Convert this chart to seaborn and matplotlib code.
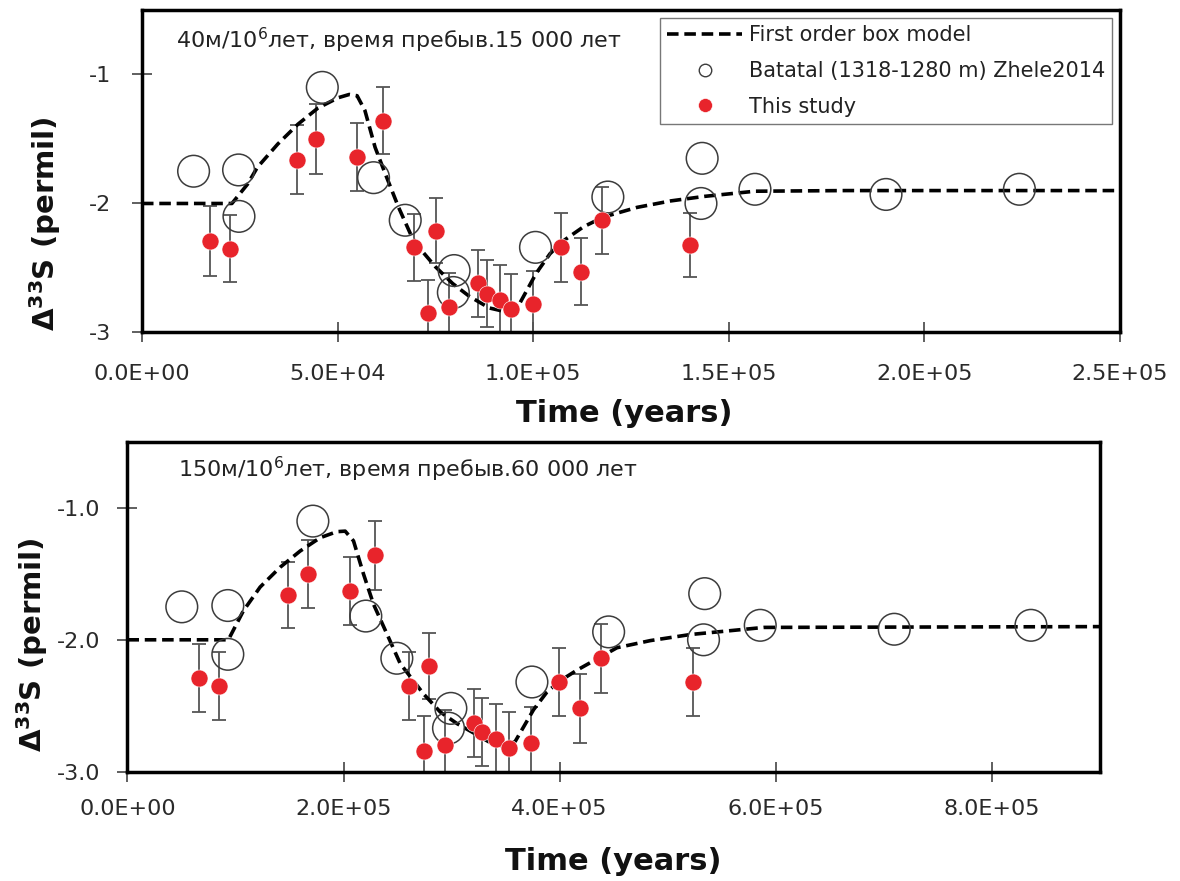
import matplotlib
matplotlib.use("Agg")
import matplotlib.pyplot as plt
import matplotlib.ticker as mticker
from matplotlib.lines import Line2D
import seaborn as sns

# --- top panel: 40 m/Myr, residence 15 000 yr ---
model_t_x = [0, 23000, 27000, 29500, 34700, 39900, 45000, 50200, 53000, 55000, 57000,
             59600, 62200, 65600, 69000, 70800, 75000, 79400, 83700, 88800, 93100,
             96100, 100800, 104300, 107700, 112900, 118000, 126600, 135200, 143800,
             156700, 180000, 250000]
model_t_y = [-2.00, -2.00, -1.85, -1.72, -1.54, -1.385, -1.26, -1.18, -1.155, -1.165, -1.28,
             -1.565, -1.77, -2.03, -2.26, -2.34, -2.49, -2.62, -2.72, -2.81, -2.84,
             -2.80, -2.54, -2.39, -2.29, -2.18, -2.105, -2.03, -1.98, -1.945,
             -1.905, -1.90, -1.90]

batatal_t_x = [13200, 24700, 24800, 46100, 59200, 67300, 79800, 79600, 100600, 119100,
               143200, 142900, 156700, 190200, 224300]
batatal_t_y = [-1.75, -1.74, -2.10, -1.10, -1.80, -2.13, -2.52, -2.69, -2.34, -1.95,
               -1.65, -2.00, -1.89, -1.93, -1.89]

study_t_x = [17500, 22500, 39700, 44600, 54900, 61500, 69500, 73200, 75100, 78500,
             85800, 88100, 91600, 94400, 100000, 107200, 112300, 117600, 140200]
study_t_y = [-2.29, -2.35, -1.66, -1.50, -1.64, -1.36, -2.34, -2.85, -2.21, -2.80,
             -2.62, -2.70, -2.75, -2.82, -2.78, -2.34, -2.53, -2.13, -2.32]
study_t_err = [0.27, 0.26, 0.27, 0.27, 0.26, 0.26, 0.26, 0.26, 0.25, 0.26,
               0.26, 0.26, 0.27, 0.27, 0.26, 0.27, 0.26, 0.26, 0.25]

# --- bottom panel: 150 m/Myr, residence 60 000 yr ---
model_b_x = [0, 93400, 107300, 122800, 141300, 159800, 178300, 193800, 201500, 209200,
             218400, 227700, 240100, 252400, 273980, 289430, 304900, 320280, 335720,
             349610, 358870, 375820, 388240, 400540, 416030, 434540, 453050, 483900,
             520930, 589160, 900000]
model_b_y = [-2.00, -2.00, -1.78, -1.60, -1.45, -1.327, -1.226, -1.18, -1.176, -1.25,
             -1.50, -1.73, -1.955, -2.18, -2.41, -2.547, -2.635, -2.706, -2.78,
             -2.81, -2.77, -2.53, -2.396, -2.31, -2.23, -2.145, -2.06, -2.006,
             -1.96, -1.906, -1.90]

batatal_b_x = [50300, 92900, 92900, 171600, 220600, 249300, 299300, 297100, 374300, 445300,
               534200, 533100, 585600, 709600, 836100]
batatal_b_y = [-1.75, -1.74, -2.11, -1.10, -1.82, -2.14, -2.52, -2.67, -2.32, -1.94,
               -1.65, -2.00, -1.89, -1.92, -1.89]

study_b_x = [66300, 84800, 149000, 166900, 205500, 229300, 261000, 274000, 279300, 294100,
             320300, 328000, 341300, 352700, 373700, 399600, 419100, 438500, 523600]
study_b_y = [-2.29, -2.35, -1.66, -1.50, -1.63, -1.36, -2.35, -2.84, -2.20, -2.80,
             -2.63, -2.70, -2.75, -2.82, -2.78, -2.32, -2.52, -2.14, -2.32]
study_b_err = [0.26, 0.26, 0.25, 0.26, 0.26, 0.26, 0.26, 0.26, 0.25, 0.27,
               0.26, 0.26, 0.26, 0.27, 0.27, 0.26, 0.26, 0.26, 0.26]

top_text = "40м/10$^6$лет, время пребыв.15 000 лет"
bottom_text = "150м/10$^6$лет, время пребыв.60 000 лет"
legend_labels = ["First order box model", "Batatal (1318-1280 m) Zhele2014", "This study"]

RED = "#e8242b"
CIRCLE_EDGE = "#3c3c3c"
DASH = (0, (3.2, 1.6))

sns.set_theme(style="white")
plt.rcParams["font.family"] = ["DejaVu Sans"]
plt.rcParams["mathtext.fontset"] = "dejavusans"

fig = plt.figure(figsize=(11.8, 8.81), dpi=100)
ax_top = fig.add_axes([0.1203, 0.6226, 0.8288, 0.3661])
ax_bot = fig.add_axes([0.1080, 0.1241, 0.8242, 0.3742])


def draw_panel(ax, mx, my, bx, by, sx, sy, serr):
    ax.errorbar(sx, sy, yerr=serr, fmt="none", ecolor="#555555", elinewidth=1.3,
                capsize=5, capthick=1.3, zorder=2)
    sns.lineplot(x=mx, y=my, ax=ax, color="black", lw=2.6, linestyle=DASH, zorder=3)
    sns.scatterplot(x=bx, y=by, ax=ax, s=520, marker="o", facecolors="none",
                    edgecolor=CIRCLE_EDGE, linewidth=1.1, zorder=3)
    sns.scatterplot(x=sx, y=sy, ax=ax, s=150, color=RED, edgecolor="white",
                    linewidth=0.4, zorder=4)
    for side in ["left", "right", "top", "bottom"]:
        ax.spines[side].set_visible(True)
        ax.spines[side].set_color("black")
        ax.spines[side].set_linewidth(2.5)
    ax.set_ylim(-3, -0.5)
    ax.set_yticks([-3, -2, -1])
    ax.tick_params(axis="both", which="major", bottom=True, left=True,
                   direction="inout", length=15, width=1.2,
                   color="#444444", labelsize=16, labelcolor="#2a2a2a")
    ax.xaxis.set_major_formatter(mticker.FuncFormatter(lambda v, p: f"{v:.1E}"))
    ax.set_xlabel("Time (years)", fontsize=22, fontweight="bold", color="#111111")
    ax.set_ylabel(r"Δ$^{\mathbf{33}}$S (permil)", fontsize=21, fontweight="bold",
                  color="#111111")


# top
draw_panel(ax_top, model_t_x, model_t_y, batatal_t_x, batatal_t_y,
           study_t_x, study_t_y, study_t_err)
ax_top.set_xlim(0, 250000)
ax_top.set_xticks([0, 50000, 100000, 150000, 200000, 250000])
ax_top.yaxis.set_major_formatter(mticker.FuncFormatter(lambda v, p: f"{v:.0f}"))
ax_top.tick_params(axis="x", pad=15)
ax_top.tick_params(axis="y", pad=15)
ax_top.xaxis.set_label_coords(0.493, -0.205)
ax_top.yaxis.set_label_coords(-0.081, 0.336)
ax_top.text(0.0348, 0.882, top_text, transform=ax_top.transAxes, fontsize=16,
            color="#222222", va="baseline", ha="left")

handles = [
    Line2D([], [], color="black", lw=2.6, linestyle=DASH),
    Line2D([], [], marker="o", ls="none", markersize=9, markerfacecolor="none",
           markeredgecolor=CIRCLE_EDGE, markeredgewidth=1.0),
    Line2D([], [], marker="o", ls="none", markersize=10, markerfacecolor=RED,
           markeredgecolor="white", markeredgewidth=0.4),
]
leg = ax_top.legend(handles, legend_labels, loc="upper right",
                    bbox_to_anchor=(0.992, 0.975), fontsize=15, frameon=True,
                    fancybox=False, edgecolor="#777777", framealpha=1,
                    handlelength=3.6, handletextpad=0.3, borderpad=0.35,
                    labelspacing=0.75, borderaxespad=0)
leg.get_frame().set_linewidth(1.0)
for t in leg.get_texts():
    t.set_color("#222222")

# bottom
draw_panel(ax_bot, model_b_x, model_b_y, batatal_b_x, batatal_b_y,
           study_b_x, study_b_y, study_b_err)
ax_bot.set_xlim(0, 900000)
ax_bot.set_xticks([0, 200000, 400000, 600000, 800000])
ax_bot.yaxis.set_major_formatter(mticker.FuncFormatter(lambda v, p: f"{v:.1f}"))
ax_bot.tick_params(axis="x", pad=12)
ax_bot.tick_params(axis="y", pad=12)
ax_bot.xaxis.set_label_coords(0.500, -0.228)
ax_bot.yaxis.set_label_coords(-0.080, 0.386)
ax_bot.text(0.052, 0.894, bottom_text, transform=ax_bot.transAxes, fontsize=16,
            color="#222222", va="baseline", ha="left")
if ax_bot.get_legend() is not None:
    ax_bot.get_legend().remove()

fig.savefig("out.png", dpi=100, facecolor="white")
